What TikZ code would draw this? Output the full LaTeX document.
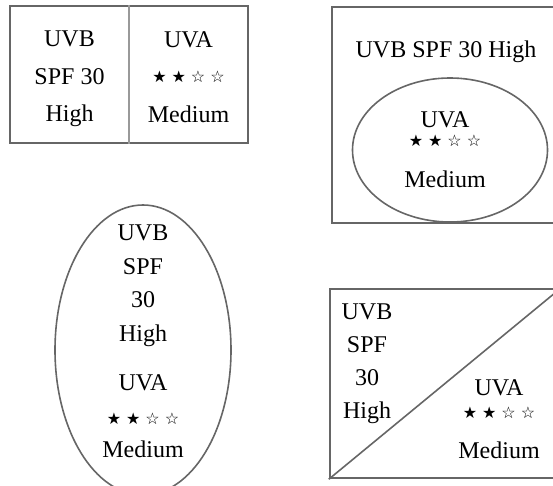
\documentclass[tikz,border=0pt]{standalone}
\usepackage{fontspec}
\setmainfont{Liberation Serif}
\newfontfamily\starfont{DejaVu Sans}
\newcommand{\rating}{{\starfont\fontsize{16}{16}\selectfont ★\hspace{5pt}★\hspace{5pt}☆\hspace{5pt}☆}}
\usetikzlibrary{shapes.geometric}
\begin{document}
\begin{tikzpicture}[x=1pt, y=-1pt,
    frame/.style={draw=black!60, line width=2.5pt},
    oval/.style={ellipse, draw=black!60, line width=1.6pt, inner sep=0pt},
    txt/.style={align=center, inner sep=0pt, font=\fontsize{24}{#1}\selectfont},
    txt/.default=34]
\useasboundingbox (0,0) rectangle (553,486);
\clip (0,0) rectangle (553,486);
% two columns
\node(split) [frame, minimum width=238pt, minimum height=137pt] at (129,74.5) {};
\draw[black!40, line width=2.5pt](split.north) -- (split.south);
\node(uvbleft) [txt=37.5, anchor=north] at (69.5,31) {UVB\\SPF 30\\High};
\node(uvaright) [txt=37.5, anchor=north] at (188.5,31) {UVA\\[-2pt]\rating\\[2pt]Medium};
% label with oval inside
\node(inset) [frame, minimum width=248pt, minimum height=216pt] at (456,115) {};
\node(uvbtop) [txt, anchor=base] at (446,58) {UVB SPF 30 High};
\node(inneroval) [oval, minimum width=195pt, minimum height=144pt] at (450,150) {};
\node(uvainner) [txt=30, anchor=north] at (445,111) {UVA\\[-11pt]\rating\\[11pt]Medium};
% tall oval
\node(tall) [oval, minimum width=176pt, minimum height=290pt] at (143,350) {};
\node(tallText) [txt=33.5, anchor=north] at (143,225) {UVB\\SPF\\30\\High\\[16pt]UVA\\\rating\\Medium};
% diagonal split
\node(diag) [frame, minimum width=230pt, minimum height=189pt] at (445,383.5) {};
\draw[black!60, line width=1.6pt](diag.south west) -- (diag.north east);
\node(uvbdiag) [txt=33, anchor=north] at (367,304) {UVB\\SPF\\30\\High};
\node(uvadiag) [txt=31.5, anchor=north] at (499,379) {UVA\\[-8pt]\rating\\[8pt]Medium};
\end{tikzpicture}
\end{document}
